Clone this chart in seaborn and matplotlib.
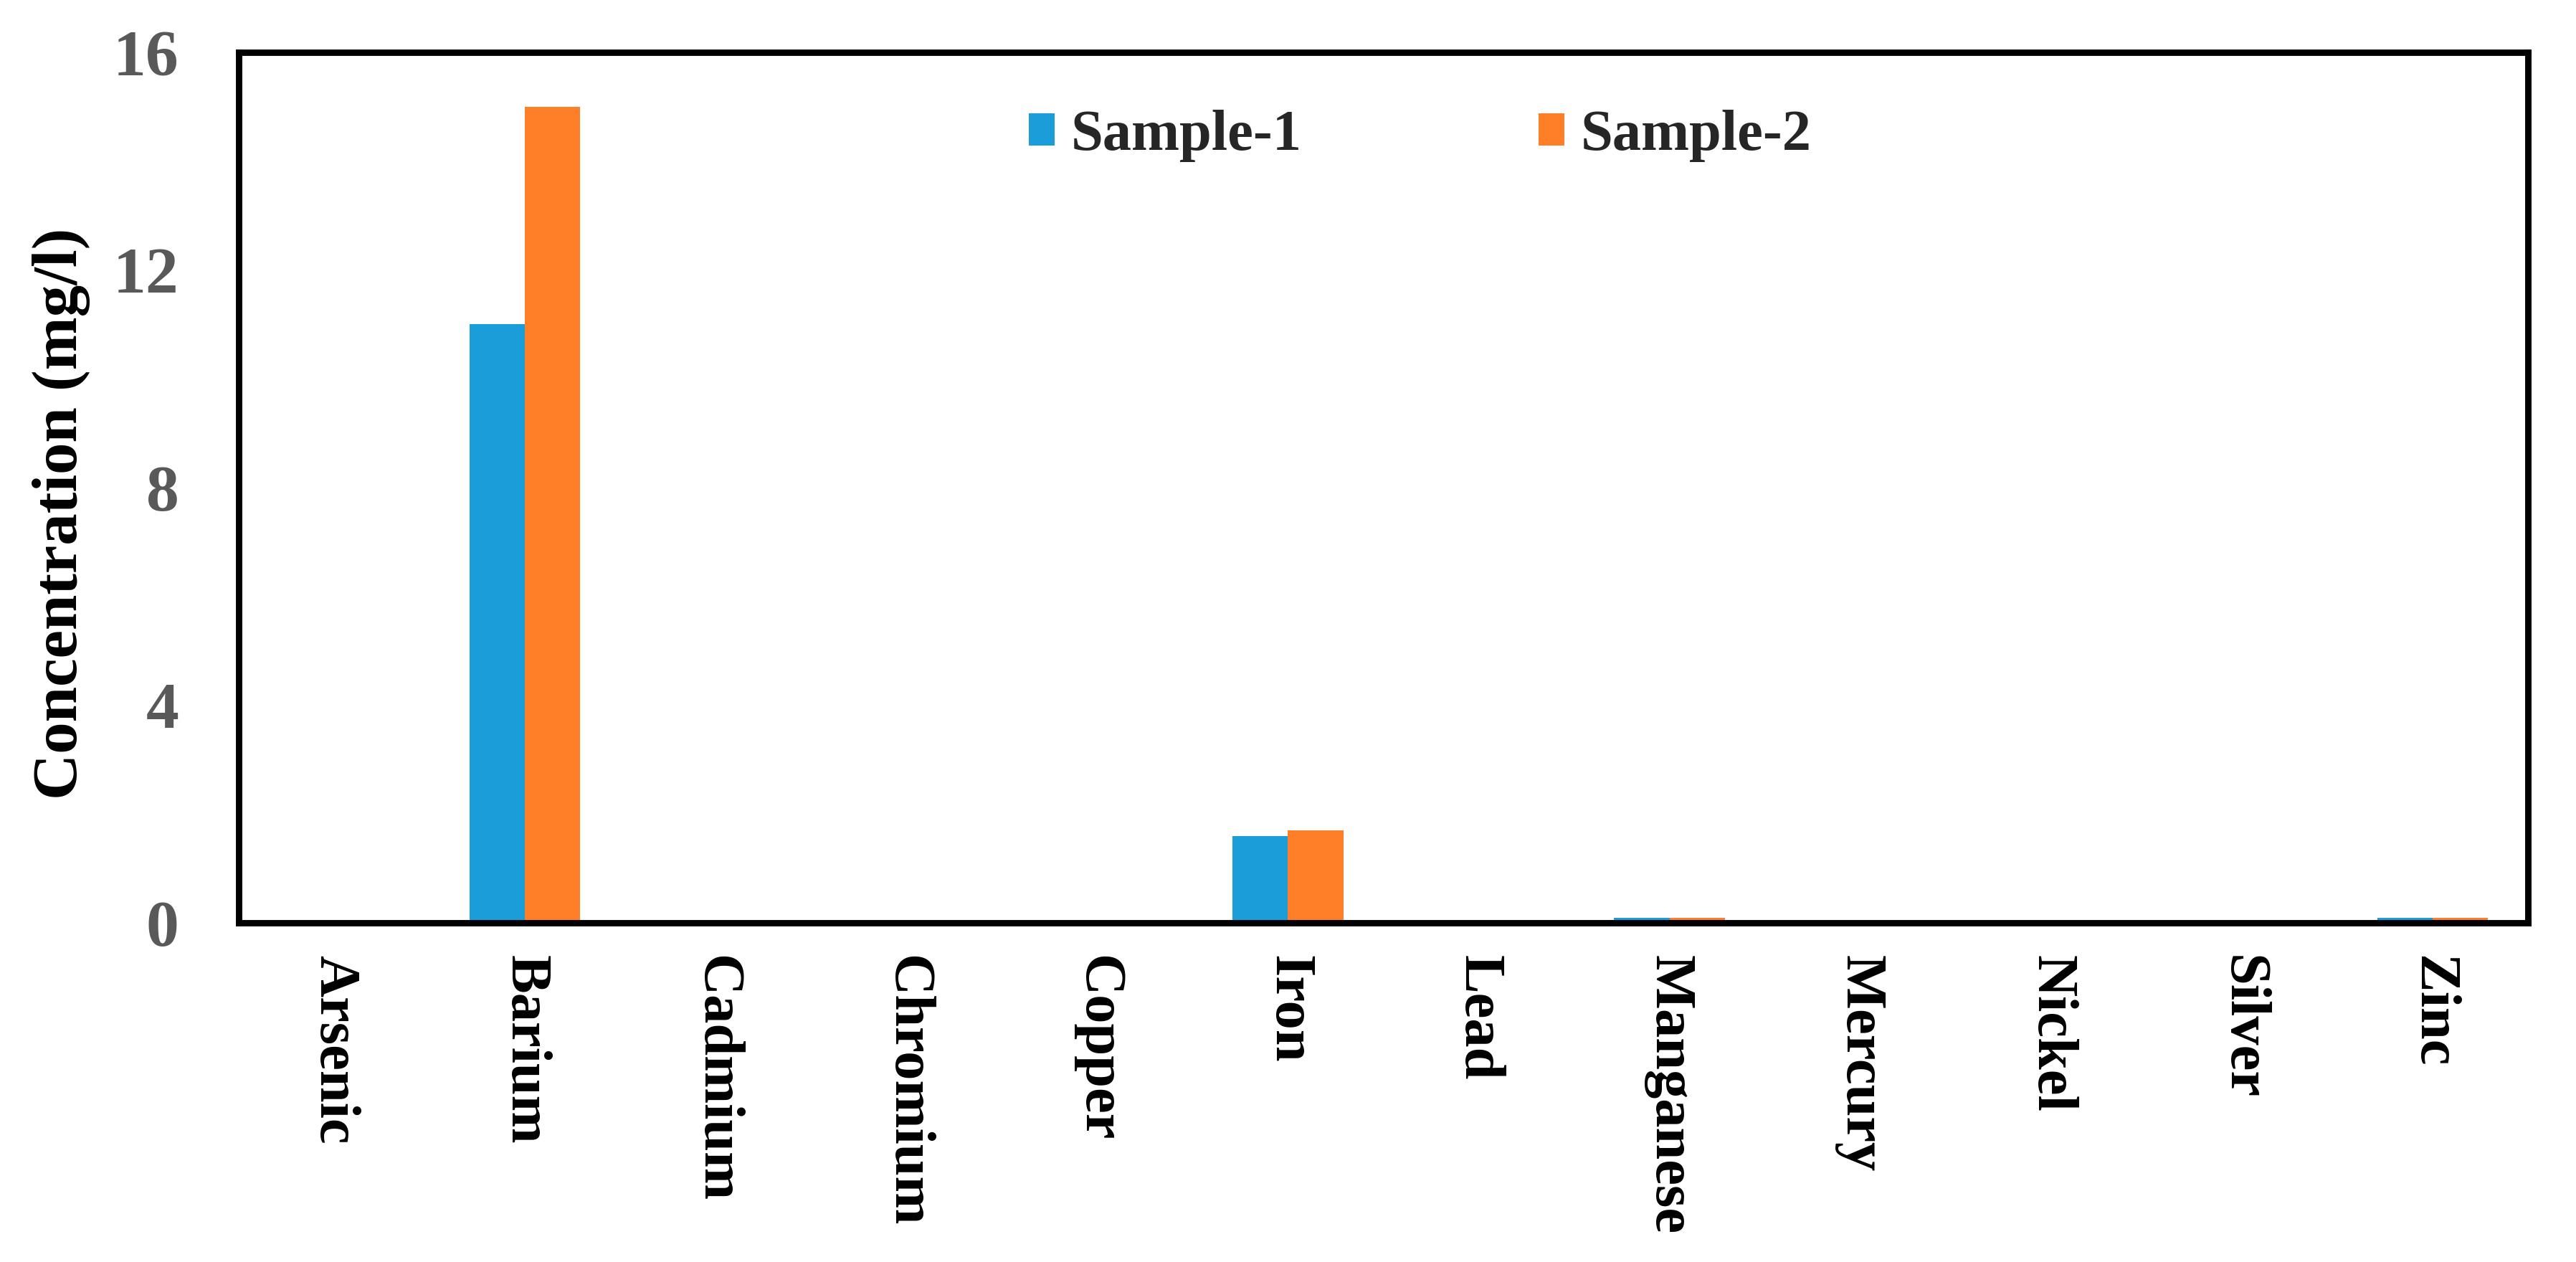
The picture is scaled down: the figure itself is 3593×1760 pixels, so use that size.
import matplotlib
matplotlib.use('Agg')
import matplotlib.pyplot as plt
import seaborn as sns
import pandas as pd

# Metal concentrations (mg/l)
metals = ['Arsenic', 'Barium', 'Cadmium', 'Chromium', 'Copper', 'Iron',
          'Lead', 'Manganese', 'Mercury', 'Nickel', 'Silver', 'Zinc']
sample_1 = [0, 11.0, 0, 0, 0, 1.6, 0, 0.1, 0, 0, 0, 0.1]
sample_2 = [0, 15.0, 0, 0, 0, 1.7, 0, 0.1, 0, 0, 0, 0.1]
samples = ['Sample-1', 'Sample-2']
y_ticks = [0, 4, 8, 12, 16]
colors = ['#1b9dd9', '#fe7f27']

# long form table for seaborn
df = pd.DataFrame({
    'Metal': metals * 2,
    'Concentration': sample_1 + sample_2,
    'Sample': [samples[0]] * len(metals) + [samples[1]] * len(metals),
})

sns.set_style('white')
plt.rcParams['font.family'] = ['Liberation Serif', 'DejaVu Serif']
plt.rcParams['font.weight'] = 'bold'

fig = plt.figure(figsize=(17.965, 8.8), dpi=200)
ax = fig.add_axes([0.0927, 0.2687, 0.8886, 0.6898])

sns.barplot(data=df, x='Metal', y='Concentration', hue='Sample',
            palette=colors, width=0.58, gap=0, saturation=1,
            edgecolor='none', linewidth=0, errorbar=None, ax=ax)

ax.set_ylim(0, 16)
ax.set_yticks(y_ticks)
ax.set_xlim(-0.5, len(metals) - 0.5)
ax.set_xlabel('')
ax.set_ylabel('Concentration (mg/l)', fontsize=32, fontweight='bold', color='black')
ax.yaxis.set_label_coords(-0.065, 0.47)

ax.tick_params(axis='y', length=0, pad=30, labelsize=33, labelcolor='#595959')
ax.tick_params(axis='x', length=0, pad=16, labelsize=29, labelcolor='black')
for lbl in ax.get_xticklabels():
    lbl.set_rotation(-90)
    lbl.set_va('top')
    lbl.set_ha('center')
    lbl.set_fontweight('bold')
for lbl in ax.get_yticklabels():
    lbl.set_fontweight('bold')

for side in ['left', 'right', 'top', 'bottom']:
    ax.spines[side].set_visible(True)
    ax.spines[side].set_color('black')
    ax.spines[side].set_linewidth(3.2)

handles, labels = ax.get_legend_handles_labels()
ax.legend(handles, labels, loc='center', bbox_to_anchor=(0.516, 0.904),
          ncol=2, frameon=False, borderpad=0, handlelength=0.45,
          handleheight=0.5, handletextpad=0.28, columnspacing=4.1,
          prop={'size': 29, 'weight': 'bold'})

fig.savefig('out.png', dpi=200, facecolor='white')
